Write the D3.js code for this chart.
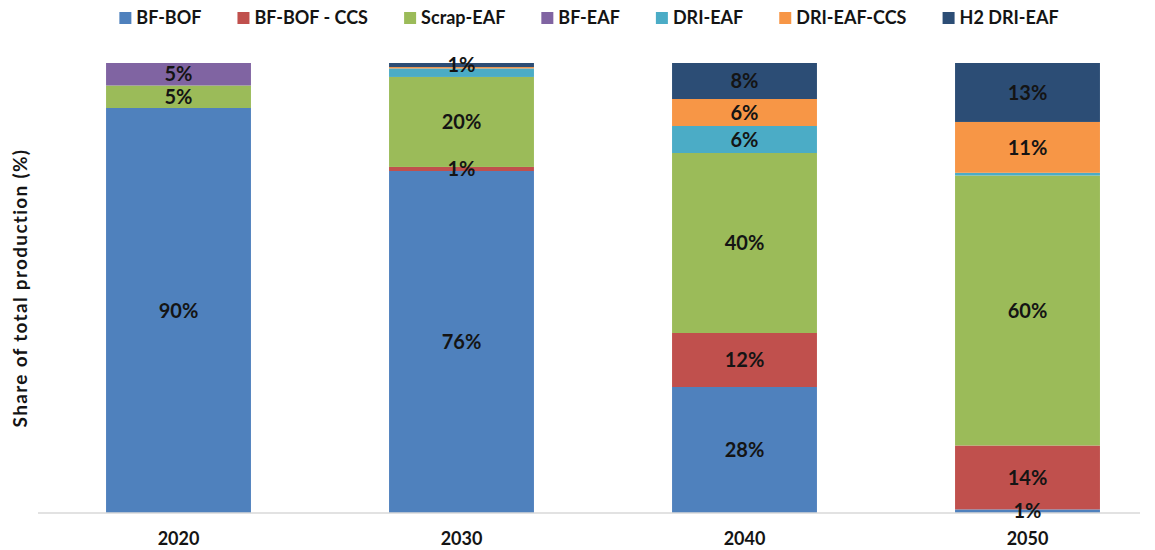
<!DOCTYPE html>
<html>
<head>
<meta charset="utf-8">
<script src="https://cdn.jsdelivr.net/npm/d3@7"></script>
<style>
  body { margin: 0; background: #fff; }
  text { font-family: Lato, "Open Sans", sans-serif; font-weight: 700; }
</style>
</head>
<body>
<div id="chart"></div>
<script>
// data (share of total production, %)
const years = ["2020", "2030", "2040", "2050"];
const seriesNames = ["BF-BOF", "BF-BOF - CCS", "Scrap-EAF", "BF-EAF", "DRI-EAF", "DRI-EAF-CCS", "H2 DRI-EAF"];
const bfBof     = [90, 76, 28, 0.8];
const bfBofCcs  = [0, 0.9, 12, 14.2];
const scrapEaf  = [5, 20, 40, 60];
const bfEaf     = [5, 0, 0, 0];
const driEaf    = [0, 1.9, 6, 0.6];
const driEafCcs = [0, 0.3, 6, 11.3];
const h2DriEaf  = [0, 0.9, 8, 13.1];
const colors = ["#4F81BD", "#C0504D", "#9BBB59", "#8064A2", "#4BACC6", "#F79646", "#2C4D75"];
// segments whose value label is not shown in the original: [year, series]
const hiddenLabels = [["2030", "DRI-EAF"], ["2030", "DRI-EAF-CCS"], ["2050", "DRI-EAF"]];

const allSeries = [bfBof, bfBofCcs, scrapEaf, bfEaf, driEaf, driEafCcs, h2DriEaf];
const rows = years.map((y, i) => {
  const r = { year: y };
  seriesNames.forEach((s, j) => { r[s] = allSeries[j][i]; });
  return r;
});

const width = 1155, height = 550;
const svg = d3.select("#chart").append("svg")
  .attr("width", width)
  .attr("height", height);

const x = d3.scaleBand()
  .domain(years)
  .range([37, 1169])
  .paddingInner(0.488)
  .paddingOuter(0.244);

const y = d3.scaleLinear()
  .domain([0, 100])
  .range([513, 63]);

const color = d3.scaleOrdinal().domain(seriesNames).range(colors);

const stacked = d3.stack().keys(seriesNames)(rows);

const layer = svg.selectAll("g.layer")
  .data(stacked)
  .enter().append("g")
  .attr("class", "layer")
  .attr("fill", d => color(d.key));

layer.selectAll("rect")
  .data(d => d.filter(p => p[1] - p[0] > 0))
  .enter().append("rect")
  .attr("x", d => x(d.data.year))
  .attr("width", x.bandwidth())
  .attr("y", d => y(d[1]))
  .attr("height", d => y(d[0]) - y(d[1]));

// baseline
svg.append("line")
  .attr("x1", 38).attr("x2", 1140)
  .attr("y1", y(0)).attr("y2", y(0))
  .attr("stroke", "#d9d9d9")
  .attr("stroke-width", 1.5);

// value labels
const isHidden = (yr, s) => hiddenLabels.some(h => h[0] === yr && h[1] === s);
stacked.forEach(s => {
  s.forEach(p => {
    const v = p[1] - p[0];
    if (v <= 0 || isHidden(p.data.year, s.key)) return;
    svg.append("text")
      .attr("x", x(p.data.year) + x.bandwidth() / 2)
      .attr("y", y((p[0] + p[1]) / 2))
      .attr("dy", "0.36em")
      .attr("text-anchor", "middle")
      .attr("font-size", 20)
      .attr("fill", "#141414")
      .text(Math.round(v) + "%");
  });
});

// x axis labels
const xAxis = svg.append("g")
  .attr("transform", `translate(0,${y(0)})`)
  .call(d3.axisBottom(x).tickSize(0).tickPadding(19));
xAxis.select(".domain").remove();
xAxis.selectAll("text")
  .attr("font-size", 18)
  .attr("font-family", "Lato, sans-serif")
  .attr("fill", "#141414");

// y axis title
svg.append("text")
  .attr("transform", `translate(27,${(y(0) + y(100)) / 2}) rotate(-90)`)
  .attr("text-anchor", "middle")
  .attr("font-size", 19)
  .attr("letter-spacing", 1.3)
  .attr("fill", "#141414")
  .text("Share of total production (%)");

// legend
const legend = svg.append("g").attr("transform", "translate(0,18)");
const items = legend.selectAll("g")
  .data(seriesNames)
  .enter().append("g");
items.append("rect")
  .attr("width", 12).attr("height", 12)
  .attr("y", -6)
  .attr("fill", d => color(d));
items.append("text")
  .attr("x", 17)
  .attr("dy", "0.36em")
  .attr("font-size", 18)
  .attr("fill", "#141414")
  .text(d => d);

const gap = 36;
let offsets = [], pos = 0;
items.each(function() {
  offsets.push(pos);
  pos += this.getBBox().width + gap;
});
const total = pos - gap;
const start = 589 - total / 2;
items.attr("transform", (d, i) => `translate(${start + offsets[i]},0)`);
</script>
</body>
</html>
